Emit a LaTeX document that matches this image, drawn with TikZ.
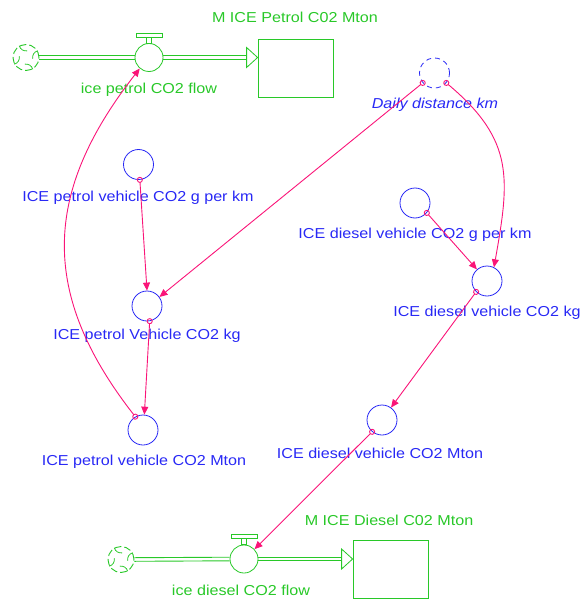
\documentclass[tikz,border=0pt]{standalone}
\usepackage{fontspec}
\usepackage{tikz}
\usetikzlibrary{arrows.meta,calc}
\newfontfamily\vfont[FakeStretch=1.12]{Liberation Sans}
\definecolor{vgreen}{RGB}{40,200,40}
\definecolor{vblue}{RGB}{40,40,245}
\definecolor{vpink}{RGB}{250,20,120}

\tikzset{
	aux/.style={draw=vblue, circle, minimum size=30pt, inner sep=0pt, line width=0.8pt},
	shadow/.style={aux, dash pattern=on 5pt off 4pt},
	valve/.style={draw=vgreen, circle, minimum size=28pt, inner sep=0pt, line width=0.8pt},
	source/.style={draw=vgreen, circle, minimum size=26pt, inner sep=0pt, line width=0.9pt, dash pattern=on 7pt off 3pt},
	stock/.style={draw=vgreen, rectangle, minimum width=75pt, minimum height=58pt, inner sep=0pt, line width=0.8pt},
	pipe/.style={draw=vgreen, line width=0.9pt},
	blbl/.style={text=vblue, font=\vfont\fontsize{14.4}{16}\selectfont, inner sep=0pt},
	glbl/.style={text=vgreen, font=\vfont\fontsize{14.4}{16}\selectfont, inner sep=0pt},
	link/.style={draw=vpink, line width=0.9pt, shorten <=-3pt, {Circle[open,length=6pt,width=6pt]}-{Triangle[length=8pt,width=7pt]}}
}

\begin{document}
\begin{tikzpicture}[x=1pt,y=-1pt]
\useasboundingbox (0,0) rectangle (582,599);
% top flow
\node[source] (cP) at (26,57.5) {};
\node[valve] (vP) at (149,57.5) {};
\node[stock] (sP) at (295.5,68) {};
\draw (295,17) node[glbl] (sPLbl) {M ICE Petrol C02 Mton};
\draw (149,90) node[glbl] (vPLbl) {ice petrol CO2 flow};
	\draw[vgreen,line width=0.8pt] (vP.north) ++(-2.5,0) rectangle ++(5,-6);
	\draw[vgreen,line width=0.8pt] (vP.north) ++(-13,-6) rectangle ++(26,-4);
	\foreach \a in {30,120,210,300}
		\draw[vgreen,line width=0.8pt] (cP.\a) to[bend right=40] ($(cP.center)!0.5!(cP.\a-40)$);
\foreach \s in {-1.8,1.8} {
	\draw[pipe] ([yshift=\s pt]cP.east) -- ([yshift=\s pt]vP.west);
	\draw[pipe] ([yshift=\s pt]vP.east) -- ([yshift=\s pt, xshift=-11pt]sP.west |- vP.east);
}
\draw[vgreen,line width=0.8pt,fill=white] (vP.east -| sP.west) -- ++(-11,-10) -- ++(0,20) -- cycle;

% bottom flow
\node[source] (cD) at (121,559.5) {};
\node[valve] (vD) at (244,559) {};
\node[stock] (sD) at (390.5,569.5) {};
\draw (389,520) node[glbl] (sDLbl) {M ICE Diesel C02 Mton};
\draw (241,590) node[glbl] (vDLbl) {ice diesel CO2 flow};
	\draw[vgreen,line width=0.8pt] (vD.north) ++(-2.5,0) rectangle ++(5,-6);
	\draw[vgreen,line width=0.8pt] (vD.north) ++(-13,-6) rectangle ++(26,-4);
	\foreach \a in {30,120,210,300}
		\draw[vgreen,line width=0.8pt] (cD.\a) to[bend right=40] ($(cD.center)!0.5!(cD.\a-40)$);
\foreach \s in {-1.8,1.8} {
	\draw[pipe] ([yshift=\s pt]cD.east) -- ([yshift=\s pt]vD.west);
	\draw[pipe] ([yshift=\s pt]vD.east) -- ([yshift=\s pt, xshift=-11pt]sD.west |- vD.east);
}
\draw[vgreen,line width=0.8pt,fill=white] (vD.east -| sD.west) -- ++(-11,-10) -- ++(0,20) -- cycle;

% variables
\node[shadow] (dist) at (434.5,73) {};
\draw (435,105) node[blbl,font=\vfont\itshape\fontsize{14.4}{16}\selectfont] (distLbl) {Daily distance km};
\node[aux] (pKm) at (138.5,164.5) {};
\draw (138,198) node[blbl] (pKmLbl) {ICE petrol vehicle CO2 g per km};
\node[aux] (pKg) at (147,306) {};
\draw (147,336) node[blbl] (pKgLbl) {ICE petrol Vehicle CO2 kg};
\node[aux] (pMt) at (143,430) {};
\draw (144,462) node[blbl] (pMtLbl) {ICE petrol vehicle CO2 Mton};
\node[aux] (dKm) at (415,203) {};
\draw (415,235) node[blbl] (dKmLbl) {ICE diesel vehicle CO2 g per km};
\node[aux] (dKg) at (487,281) {};
\draw (487,313) node[blbl] (dKgLbl) {ICE diesel vehicle CO2 kg};
\node[aux] (dMt) at (382,420) {};
\draw (380,453) node[blbl] (dMtLbl) {ICE diesel vehicle CO2 Mton};

% links
\draw[link] (pKm.-85) -- (pKg.north);
\draw[link] (pKg.-80) -- (pMt.85);
\draw[link] (pMt.120) to[out=128,in=232,looseness=1.15] (vP.230);
\draw[link] (dist.220) -- (pKg.36);
\draw[link] (dist.-40) to[out=-40,in=80,looseness=1.2] (dKg.63);
\draw[link] (dKm.-40) -- (dKg.131);
\draw[link] (dKg.-135) -- (dMt.54);
\draw[link] (dMt.-130) -- (vD.43);
\end{tikzpicture}
\end{document}
